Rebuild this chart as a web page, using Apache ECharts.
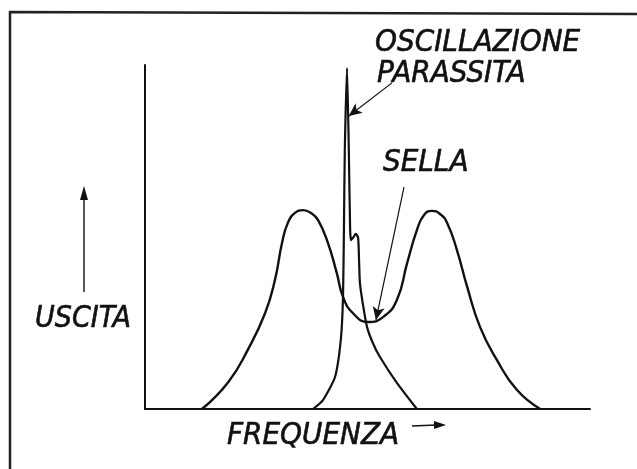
<!DOCTYPE html>
<html>
<head>
<meta charset="utf-8">
<script src="https://cdn.jsdelivr.net/npm/echarts@6/dist/echarts.min.js"></script>
<style>
html,body{margin:0;padding:0;background:#fff;}
#c{width:637px;height:469px;}
</style>
</head>
<body>
<div id="c"></div>
<script>
// Double-humped response curve (frequency, output)
const respX = [12.8, 18.7, 23.1, 27.0, 29.2, 30.8, 32.1, 33.7, 35.5, 37.3, 38.9, 41.1, 43.1, 44.5, 46.7, 50.1, 53.5, 56.6, 58.9, 61.1, 62.7, 64.5, 66.3, 67.9, 70.1, 72.4, 75.3, 79.1, 83.6, 88.8];
const respY = [0, 7.8, 17.2, 27.9, 37.5, 48.3, 54.1, 57.0, 57.8, 57.0, 54.9, 48.3, 39.5, 32.6, 27.9, 25.3, 26.7, 31.7, 42.4, 52.0, 56.4, 57.6, 56.7, 54.1, 46.2, 35.5, 23.8, 14.2, 5.5, 0];
// Parasitic oscillation curve
const paraX = [37.75, 40.0, 42.7, 44.0, 44.5, 44.7, 44.9, 45.4, 45.8, 46.1, 46.3, 46.7, 47.4, 47.9, 48.1, 48.3, 49.0, 49.9, 51.2, 52.8, 56.6, 61.1];
const paraY = [0, 2.6, 9.3, 20.1, 32.6, 52.0, 75.3, 99.1, 75.3, 52.0, 49.1, 49.7, 50.9, 49.7, 43.3, 36.6, 30.2, 23.8, 19.2, 15.1, 7.6, 0];
// Annotation arrows in data coordinates [fromX, fromY, toX, toY]
const arrowParassita = [55.5, 94.8, 45.8, 85.2];
const arrowSella = [58.2, 64.5, 51.9, 25.9];
const labels = {osc: 'OSCILLAZIONE', par: 'PARASSITA', sella: 'SELLA', y: 'USCITA', x: 'FREQUENZA'};

const zip = (xs, ys) => xs.map((x, i) => [x, ys[i]]);
const chart = echarts.init(document.getElementById('c'), null, {renderer: 'canvas'});
const FONT = '"DejaVu Sans Condensed", "DejaVu Sans", sans-serif';
const INK = '#111';
const txt = (t, x, y, size) => ({
  type: 'text', x: x, y: y,
  style: {text: t, font: 'oblique 500 ' + size + 'px ' + FONT, fill: INK, stroke: INK, lineWidth: 0.6,
    textVerticalAlign: 'middle', textAlign: 'left'}
});
function arrowMark(a) {
  return [{coord: [a[0], a[1]], symbol: 'none'}, {coord: [a[2], a[3]], symbol: 'arrow'}];
}
chart.setOption({
  backgroundColor: '#fff',
  animation: false,
  grid: {left: 145, right: 47, top: 65, bottom: 60},
  xAxis: {type: 'value', min: 0, max: 100, axisLine: {show: true, onZero: false, lineStyle: {color: INK, width: 2}}, axisTick: {show: false}, axisLabel: {show: false}, splitLine: {show: false}},
  yAxis: {type: 'value', min: 0, max: 100, axisLine: {show: true, onZero: false, lineStyle: {color: INK, width: 2}}, axisTick: {show: false}, axisLabel: {show: false}, splitLine: {show: false}},
  series: [
    {type: 'line', data: zip(respX, respY), smooth: 0.5, symbol: 'none', lineStyle: {color: INK, width: 2.4}, z: 3},
    {type: 'line', data: zip(paraX, paraY), smooth: 0.2, symbol: 'none', lineStyle: {color: INK, width: 2.2}, z: 3,
      markLine: {silent: true, animation: false, symbolSize: [9, 13], label: {show: false},
        lineStyle: {color: INK, width: 1.2, type: 'solid'},
        data: [arrowMark(arrowParassita), arrowMark(arrowSella)]}}
  ],
  graphic: [
    {type: 'polyline', shape: {points: [[10, 469], [10, 12], [637, 14]]}, style: {stroke: '#222', lineWidth: 2.5, fill: null}},
    txt(labels.osc, 375, 43, 31),
    txt(labels.par, 377, 74, 31),
    txt(labels.sella, 383, 163, 31),
    txt(labels.y, 35, 319, 30),
    txt(labels.x, 227, 436, 31),
    {type: 'line', shape: {x1: 84, y1: 292, x2: 84, y2: 196}, style: {stroke: INK, lineWidth: 1.4}},
    {type: 'polygon', shape: {points: [[84, 186], [80, 200], [88, 200]]}, style: {fill: INK}},
    {type: 'line', shape: {x1: 412, y1: 426, x2: 436, y2: 425}, style: {stroke: INK, lineWidth: 1.4}},
    {type: 'polygon', shape: {points: [[446, 425], [434, 421], [434, 429]]}, style: {fill: INK}}
  ]
});
</script>
</body>
</html>
